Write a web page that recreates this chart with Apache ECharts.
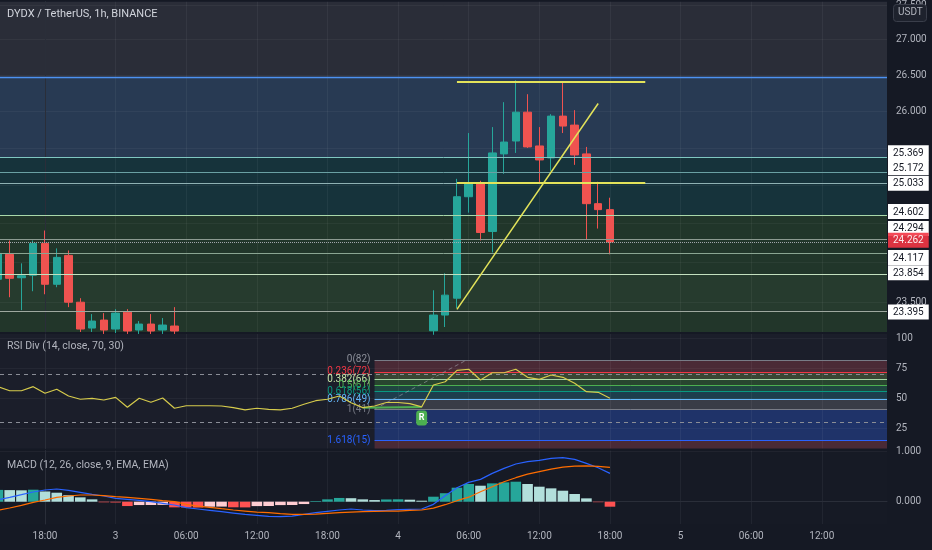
<!DOCTYPE html>
<html>
<head>
<meta charset="utf-8">
<script src="https://cdn.jsdelivr.net/npm/echarts@6/dist/echarts.min.js"></script>
<style>
html,body{margin:0;padding:0;background:#151924;}
#c{width:932px;height:550px;}
</style>
</head>
<body>
<div id="c"></div>
<script>
// ================= DATA =================
// hours are offsets from day 2, 18:00 (1h candles)
const firstHour = -4;               // hour of the first RSI / MACD value
const tickHours = [0, 6, 12, 18, 24, 30, 36, 42, 48, 54, 60, 66];
const priceTicks = [23.5, 24, 24.5, 25, 25.5, 26, 26.5, 27, 27.5];
const priceTickLabels = [23.5, 26, 26.5, 27, 27.5];   // the others sit behind the level boxes

const candleHours = [-4,-3,-2,-1,0,1,2,3,4,5,6,7,8,9,10,11,33,34,35,36,37,38,39,40,41,42,43,44,45,46,47,48];
const candleOpen  = [23.788,24.103,23.807,23.838,24.243,23.725,24.090,23.501,23.182,23.280,23.170,23.378,23.158,23.231,23.158,23.207,
                     23.149,23.342,23.551,24.849,25.033,24.396,25.418,25.592,25.985,25.525,25.364,25.931,25.808,25.418,24.758,24.680];
const candleClose = [24.115,23.800,23.832,24.243,23.725,24.065,23.501,23.170,23.268,23.158,23.366,23.146,23.231,23.146,23.219,23.146,
                     23.342,23.589,24.849,25.033,24.383,25.431,25.578,25.985,25.512,25.337,25.931,25.795,25.404,24.758,24.680,24.262];
const candleLow   = [23.713,23.563,23.403,23.638,23.600,23.688,23.440,23.134,23.134,23.110,23.120,23.110,23.110,23.110,23.110,23.110,
                     23.100,23.195,23.428,24.641,24.281,24.128,25.152,25.431,25.498,25.020,25.191,25.700,25.271,24.294,24.434,24.103];
const candleHigh  = [24.217,24.281,23.989,24.281,24.409,24.179,24.153,23.551,23.354,23.366,23.415,23.415,23.268,23.354,23.305,23.440,
                     23.650,23.863,25.085,25.700,25.059,25.781,26.123,26.427,26.233,25.781,25.958,26.399,26.013,25.512,25.046,24.836];

// Fibonacci levels drawn on the price pane
const levelPrices = [26.470, 25.369, 25.172, 25.033, 24.602, 24.294, 24.117, 23.854, 23.395];
const levelHasLabel = [false, true, true, true, true, true, true, true, true];
const bandEdges = [26.470, 25.369, 24.602, 23.854, 23.395];

// yellow drawings: [fromHour, toHour, price]
const drawHLines = [[35, 51, 26.413], [35, 51, 25.036]];
const trendLine = [[35, 23.412], [47, 26.105]];

// RSI
const rsiValues = [59.7,56.3,56.3,59.7,54.2,57.5,51.9,49.2,50.0,48.6,50.8,42.5,50.0,46.7,50.3,41.7,43.8,43.8,43.8,43.6,
                   42.2,40.3,41.7,40.8,40.3,41.7,45.0,48.0,49.2,51.9,46.3,42.2,43.6,46.5,46.5,45.5,42.8,61.1,63.8,73.3,
                   74.2,65.3,71.3,71.3,74.2,67.5,65.8,69.4,67.5,62.5,55.5,55.0,50.0];
const rsiBands = [70, 30];
const rsiTicks = [25, 50, 75, 100];
const rsiFibStartHour = 28;
const rsiFibLevels = [82, 72, 66, 61, 56, 49, 41, 15];
const rsiFibRatios = ['0', '0.236', '0.382', '0.5', '0.618', '0.786', '1', '1.618'];
const rsiFibDiagonal = [[28, 41], [35.84, 82]];
const divergenceLine = [[27, 42.2], [32, 42.8]];
const divergenceHour = 32;

// MACD
const macdHist = [0.236,0.232,0.228,0.240,0.205,0.180,0.130,0.087,0.047,-0.012,-0.016,-0.087,-0.067,-0.066,-0.064,-0.113,-0.115,-0.117,
                  -0.100,-0.098,-0.112,-0.114,-0.088,-0.086,-0.068,-0.066,-0.047,0.013,0.047,0.075,0.070,0.047,0.033,0.045,0.048,0.040,
                  0.020,0.100,0.170,0.280,0.354,0.320,0.367,0.387,0.400,0.354,0.300,0.267,0.220,0.154,0.067,-0.010,-0.100];
const macdLine = [0.040,0.087,0.140,0.194,0.234,0.254,0.227,0.187,0.147,0.114,0.067,0.047,0.027,0.000,-0.033,-0.066,-0.120,-0.146,
                  -0.173,-0.200,-0.227,-0.253,-0.273,-0.293,-0.300,-0.287,-0.253,-0.220,-0.193,-0.166,-0.146,-0.166,-0.180,-0.173,-0.160,-0.153,
                  -0.146,-0.053,0.120,0.280,0.387,0.447,0.567,0.667,0.754,0.800,0.827,0.867,0.880,0.847,0.767,0.680,0.567];
const signalLine = [-0.173,-0.126,-0.073,-0.013,0.034,0.087,0.114,0.134,0.134,0.120,0.100,0.087,0.067,0.047,0.020,0.000,-0.053,-0.087,
                    -0.113,-0.140,-0.166,-0.187,-0.207,-0.220,-0.240,-0.253,-0.253,-0.247,-0.233,-0.220,-0.207,-0.200,-0.193,-0.187,-0.187,-0.173,
                    -0.166,-0.130,-0.060,0.020,0.090,0.200,0.300,0.400,0.480,0.550,0.600,0.650,0.690,0.710,0.715,0.705,0.687];
const macdTicks = [0, 1];

// ================= STYLE / LAYOUT =================
const LN = Math.log;
const X_MIN = -3.823, X_MAX = 71.538;
const P_MIN = 3.141294, P_MAX = 3.315939;       // ln(price) extent of the price pane
const RSI_MIN = 8.17, RSI_MAX = 103.58;
const MACD_MIN = -0.446, MACD_MAX = 1.024;
const UP = '#26a69a', DOWN = '#ef5350';
const AXIS_TXT = '#b2b5be';
const FONT = 'Roboto';

const levelLineColors = ['#4d92f2','#7fc7c1','#6aa0a3','#8fb1b3','#a9d8aa','#8c9a90','#8aa592','#c3e0bf','#9ea89f'];
const levelLineWidths = [1.4, 1, 1, 1, 1, 1, 1, 1, 1];
const levelLabelShift = [0, -4.7, -4.7, 0.5, -4, -11, 4.3, -1.3, 1.3];
const bandColors = ['#283a53', '#16333b', '#21362a', '#263b2e', '#22362a'];
const rsiFibLineColors = ['#787b86','#f23645','#a5d6a7','#4caf50','#089981','#64b5f6','#787b86','#2962ff'];
const rsiFibTextColors = ['#8c8f99','#f23645','#c5e3a6','#4caf50','#089981','#64b5f6','#787b86','#2962ff'];
const rsiFibBandColors = ['#4a2a36','#384634','#28452f','#1f4640','#1d3e4d','#393c47','#1f3369','#4a2a36'];

function hourLabel(h) {
  const total = h + 18;
  const day = 2 + Math.floor(total / 24);
  const hh = ((total % 24) + 24) % 24;
  return hh === 0 ? String(day) : (hh < 10 ? '0' + hh : String(hh)) + ':00';
}

function boxLabel(text, shift, bg, fg) {
  const pad = shift < 0 ? [0, 0, -2 * shift, 0] : [2 * shift, 0, 0, 0];
  return {
    show: true, position: 'end', distance: 1, padding: pad,
    formatter: '{b|' + text + '}',
    rich: { b: { backgroundColor: bg, color: fg, fontSize: 10, fontFamily: FONT,
                 padding: [3, 5, 2, 5], lineHeight: 12 } }
  };
}

// ---- price pane marks ----
const candleData = candleHours.map((h, i) =>
  [h, LN(candleOpen[i]), LN(candleClose[i]), LN(candleLow[i]), LN(candleHigh[i])]);

const priceBandData = bandEdges.map((p, i) => {
  const lower = i + 1 < bandEdges.length ? LN(bandEdges[i + 1]) : P_MIN;
  return [{ yAxis: LN(p), itemStyle: { color: bandColors[i] } }, { yAxis: lower }];
});

const levelLineData = levelPrices.map((p, i) => ({
  yAxis: LN(p),
  lineStyle: { color: levelLineColors[i], width: levelLineWidths[i], type: 'solid', opacity: 1 },
  label: levelHasLabel[i] ? boxLabel(p.toFixed(3), levelLabelShift[i], '#ffffff', '#131722') : { show: false }
}));
const lastClose = candleClose[candleClose.length - 1];
levelLineData.push({
  yAxis: LN(lastClose),
  lineStyle: { color: '#aeb1b8', width: 1, type: 'dotted', opacity: 0.9 },
  label: boxLabel(lastClose.toFixed(3), -1.7, '#f23645', '#ffffff')
});

const drawingData = drawHLines.map(d => [
  { coord: [d[0], LN(d[2])], lineStyle: { color: '#e3e35a', width: 2, type: 'solid' } },
  { coord: [d[1], LN(d[2])] }
]);
drawingData.push([
  { coord: [trendLine[0][0], LN(trendLine[0][1])], lineStyle: { color: '#e3e35a', width: 1.5, type: 'solid' } },
  { coord: [trendLine[1][0], LN(trendLine[1][1])] }
]);

// ---- RSI pane marks ----
const rsiData = rsiValues.map((v, i) => [firstHour + i, v]);
const rsiFibAreas = rsiFibLevels.map((lv, i) => {
  const lower = i + 1 < rsiFibLevels.length ? rsiFibLevels[i + 1] : RSI_MIN;
  return [{ xAxis: rsiFibStartHour, yAxis: lv, itemStyle: { color: rsiFibBandColors[i] } },
          { xAxis: X_MAX, yAxis: lower }];
});
const rsiLines = rsiFibLevels.map((lv, i) => [
  { coord: [rsiFibStartHour, lv], lineStyle: { color: rsiFibLineColors[i], width: 1, type: 'solid' },
    label: { show: true, position: 'start', distance: 4, padding: [0, 0, 13, 0],
             formatter: rsiFibRatios[i] + '(' + lv + ')', color: rsiFibTextColors[i],
             fontSize: 10, fontFamily: FONT } },
  { coord: [X_MAX, lv] }
]);
rsiBands.forEach(b => rsiLines.push({ yAxis: b, lineStyle: { color: '#8a8d96', width: 1, type: [4, 4] }, label: { show: false } }));
rsiLines.push([
  { coord: rsiFibDiagonal[0], lineStyle: { color: 'rgba(170,173,180,0.55)', width: 1, type: [4, 3] }, label: { show: false } },
  { coord: rsiFibDiagonal[1] }
]);
rsiLines.push([
  { coord: divergenceLine[0], lineStyle: { color: '#4caf50', width: 2, type: 'solid' }, label: { show: false } },
  { coord: divergenceLine[1] }
]);

// ---- MACD ----
const histData = macdHist.map((v, i) => [firstHour + i, v]);
const macdData = macdLine.map((v, i) => [firstHour + i, v]);
const signalData = signalLine.map((v, i) => [firstHour + i, v]);
function histColor(i) {
  const v = macdHist[i];
  const prev = i > 0 ? macdHist[i - 1] : null;
  if (v >= 0) return (prev === null || v >= prev) ? '#26a69a' : '#b2dfdb';
  return (prev !== null && v > prev) ? '#ffcdd2' : '#ff5252';
}

// ================= CHART =================
const chart = echarts.init(document.getElementById('c'));
const grids = [
  { left: 0, right: 45, top: 0, height: 332, show: true, backgroundColor: '#2a2d38', borderWidth: 0 },
  { left: 0, right: 45, top: 334, height: 114.5, show: true, backgroundColor: '#1b1e2a', borderWidth: 0 },
  { left: 0, right: 45, top: 450.5, height: 73.5, show: true, backgroundColor: '#161a25', borderWidth: 0 }
];
const xAxes = [0, 1, 2].map(g => ({
  type: 'value', gridIndex: g, min: X_MIN, max: X_MAX, z: 1,
  axisLine: { show: g === 2, lineStyle: { color: '#2a2e39' } },
  axisTick: { show: false, customValues: tickHours },
  axisLabel: { show: g === 2, customValues: tickHours, formatter: v => hourLabel(v),
               color: AXIS_TXT, fontSize: 10, fontFamily: FONT, margin: 7 },
  splitLine: { show: true, lineStyle: { color: 'rgba(255,255,255,0.05)', width: 1 } }
}));
function yAx(g, min, max, ticks, labelTicks, fmt) {
  return {
    type: 'value', gridIndex: g, position: 'right', min: min, max: max, z: 1,
    axisLine: { show: true, lineStyle: { color: '#2a2e39' } },
    axisTick: { show: false, customValues: ticks },
    axisLabel: { customValues: labelTicks, formatter: fmt, color: AXIS_TXT, fontSize: 10, fontFamily: FONT, margin: 9 },
    splitLine: { show: true, lineStyle: { color: 'rgba(255,255,255,0.045)' } }
  };
}
const yAxes = [
  yAx(0, P_MIN, P_MAX, priceTicks.map(LN), priceTickLabels.map(LN), v => Math.exp(v).toFixed(3)),
  yAx(1, RSI_MIN, RSI_MAX, rsiTicks, rsiTicks, v => String(Math.round(v))),
  yAx(2, MACD_MIN, MACD_MAX, macdTicks, macdTicks, v => v.toFixed(3))
];

chart.setOption({
  backgroundColor: '#151924',
  animation: false,
  textStyle: { fontFamily: FONT },
  grid: grids,
  xAxis: xAxes,
  yAxis: yAxes,
  series: [
    { type: 'line', xAxisIndex: 0, yAxisIndex: 0, data: [], silent: true, z: 1,
      markArea: { silent: true, z: 0.5, data: priceBandData } },
    { type: 'candlestick', xAxisIndex: 0, yAxisIndex: 0, data: candleData, barWidth: 8, z: 2, silent: true,
      itemStyle: { color: UP, color0: DOWN, borderColor: UP, borderColor0: DOWN, borderWidth: 1 } },
    { type: 'line', xAxisIndex: 0, yAxisIndex: 0, data: [], silent: true, z: 3,
      markLine: { silent: true, precision: 8, symbol: ['none', 'none'], z: 3, data: levelLineData } },
    { type: 'line', xAxisIndex: 0, yAxisIndex: 0, data: [], silent: true, z: 4,
      markLine: { silent: true, precision: 8, symbol: ['none', 'none'], z: 4, label: { show: false }, data: drawingData } },

    { type: 'line', xAxisIndex: 1, yAxisIndex: 1, data: [], silent: true, z: 1,
      markArea: { silent: true, z: 0.5, data: rsiFibAreas } },
    { type: 'line', xAxisIndex: 1, yAxisIndex: 1, data: [], silent: true, z: 3,
      markLine: { silent: true, precision: 8, symbol: ['none', 'none'], z: 3, data: rsiLines } },
    { type: 'line', xAxisIndex: 1, yAxisIndex: 1, data: rsiData, silent: true, z: 4,
      symbol: 'none', lineStyle: { color: '#d6cb4c', width: 1.2 },
      markPoint: { silent: true, z: 6, symbol: 'roundRect', symbolSize: [11, 15], symbolOffset: [0, 11],
        itemStyle: { color: '#4caf50' },
        label: { show: true, formatter: 'R', color: '#ffffff', fontSize: 9, fontWeight: 'bold', fontFamily: FONT },
        data: [{ coord: [divergenceHour, rsiValues[divergenceHour - firstHour]] }] } },

    { type: 'bar', xAxisIndex: 2, yAxisIndex: 2, data: histData, barWidth: 10.6, silent: true, z: 2,
      itemStyle: { color: p => histColor(p.dataIndex) } },
    { type: 'line', xAxisIndex: 2, yAxisIndex: 2, data: macdData, silent: true, z: 3, symbol: 'none',
      lineStyle: { color: '#2962ff', width: 1.2 } },
    { type: 'line', xAxisIndex: 2, yAxisIndex: 2, data: signalData, silent: true, z: 3, symbol: 'none',
      lineStyle: { color: '#ff6d00', width: 1.2 } }
  ],
  graphic: [
    { type: 'text', left: 7, top: 9, z: 10, style: { text: 'DYDX / TetherUS, 1h, BINANCE', fill: '#d1d4dc', font: '11px Roboto' } },
    { type: 'text', left: 7, top: 341, z: 10, style: { text: 'RSI Div (14, close, 70, 30)', fill: AXIS_TXT, font: '10.5px Roboto' } },
    { type: 'text', left: 7, top: 460, z: 10, style: { text: 'MACD (12, 26, close, 9, EMA, EMA)', fill: AXIS_TXT, font: '10.5px Roboto' } },
    { type: 'rect', left: 893, top: 4, z: 10, shape: { width: 33, height: 17, r: 3 }, style: { fill: '#1e222d', stroke: '#3a3e4a', lineWidth: 1 } },
    { type: 'text', left: 898, top: 7.5, z: 11, style: { text: 'USDT', fill: AXIS_TXT, font: '10px Roboto' } }
  ]
});
</script>
</body>
</html>
